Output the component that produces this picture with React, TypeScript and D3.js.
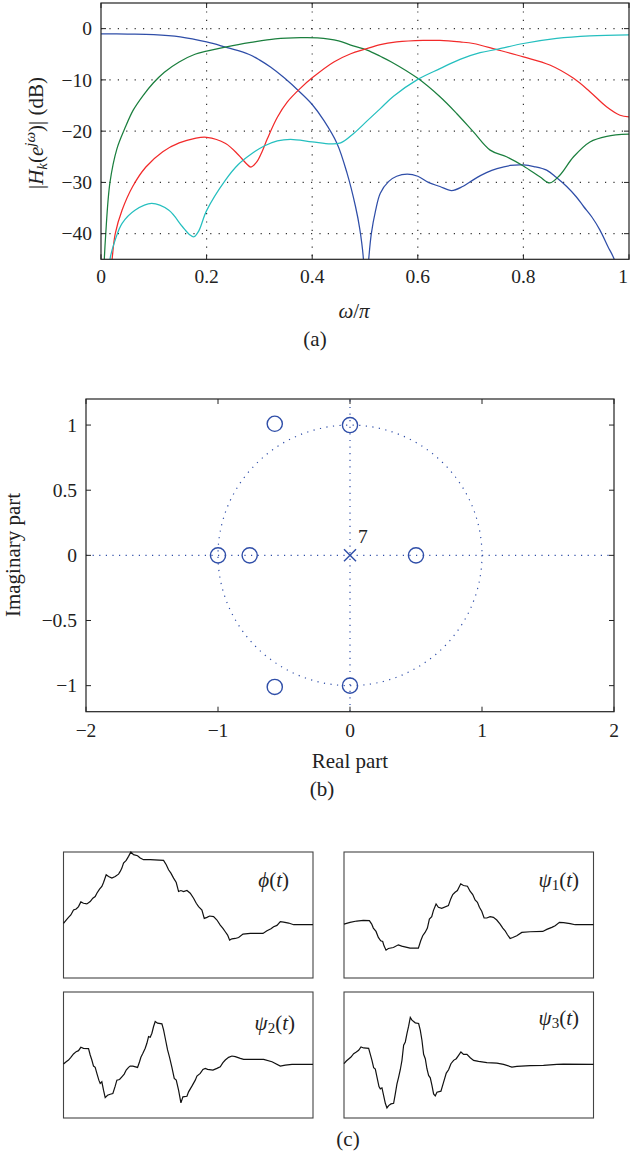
import React from "react";
import * as d3 from "d3";

// ---------- (a) magnitude responses: omega/pi and dB ----------
const omegaH0 = [0, .05, .1, .15, .2, .236, .26, .284, .3, .321, .347, .378, .4, .422, .447, .466, .482, .49, .497, .5, .503, .507, .512, .52, .529, .545, .56, .58, .6, .62, .642, .664, .685, .705, .73, .75, .775, .8, .82, .844, .862, .882, .9, .914, .93, .945, .96, .972, .985, 1];
const dbH0 = [-1.0, -1.05, -1.15, -1.6, -2.6, -3.6, -4.3, -5.2, -6.1, -7.5, -9.6, -12.5, -14.8, -17.9, -22.4, -28.2, -34.7, -39, -45, -60, -50, -45, -40, -35.5, -32.1, -29.8, -28.8, -28.4, -28.8, -30, -30.8, -31.6, -30.8, -29.5, -28.1, -27.3, -26.7, -26.6, -26.9, -27.6, -29, -30.8, -32.8, -34.7, -36.8, -39.3, -42.5, -45, -50, -60];

const omegaH1 = [0.002, .005, .009, .017, .03, .045, .061, .08, .099, .12, .148, .178, .2, .24, .284, .33, .378, .41, .45, .473, .504, .529, .55, .6, .642, .674, .705, .737, .768, .8, .831, .85, .869, .895, .926, .958, 1];
const dbH1 = [-60, -48, -40, -30, -23.5, -19.5, -15.9, -13.0, -10.6, -8.5, -6.5, -5.0, -4.4, -3.5, -2.7, -2.0, -1.75, -1.8, -2.4, -3.2, -4.2, -5.4, -6.5, -9.7, -13.3, -16.6, -20.1, -23.7, -25, -26.8, -28.9, -30.1, -28.6, -25, -22.1, -21, -20.6];

const omegaH2 = [.005, .012, .021, .027, .04, .06, .085, .117, .148, .178, .2, .236, .26, .275, .284, .295, .305, .315, .334, .353, .378, .4, .441, .473, .5, .529, .56, .61, .642, .68, .705, .75, .8, .85, .895, .926, .958, .983, 1];
const dbH2 = [-70, -55, -45, -40, -35.4, -30.8, -27, -24, -22.3, -21.4, -21.2, -22.4, -24.6, -26.3, -27, -26, -24, -21.5, -17.3, -14.3, -11.6, -9.6, -6.5, -4.9, -4.0, -3.1, -2.6, -2.3, -2.3, -2.6, -2.9, -4.1, -5.5, -7.1, -9.7, -12.3, -15.3, -16.9, -17.2];

const omegaH3 = [.008, .017, .027, .04, .065, .096, .128, .154, .168, .176, .185, .2, .236, .26, .284, .309, .334, .359, .4, .435, .454, .479, .504, .529, .554, .6, .642, .68, .718, .752, .8, .863, .926, 1];
const dbH3 = [-60, -45, -41.2, -38, -35.4, -34.1, -35.4, -38.6, -40.2, -40.6, -39.5, -35.5, -29.5, -26.5, -24.5, -22.9, -21.9, -21.6, -22.1, -22.5, -22.3, -20.4, -18.0, -15.6, -13.2, -9.9, -7.8, -6.0, -4.7, -4.0, -2.9, -1.9, -1.4, -1.2];

const seriesColors = ["#2f4ea8", "#1b7f3e", "#f22a2a", "#25bfbf"];
const xTicksA = [0, 0.2, 0.4, 0.6, 0.8, 1];
const xTickLabelsA = ["0", "0.2", "0.4", "0.6", "0.8", "1"];
const yTicksA = [-40, -30, -20, -10, 0];
const yTickLabelsA = ["−40", "−30", "−20", "−10", "0"];

// ---------- (b) pole-zero plot ----------
const zerosRe = [-1, -0.76, -0.57, -0.57, 0, 0, 0.5];
const zerosIm = [0, 0, 1.01, -1.01, 1, -1, 0];
const polesRe = [0];
const polesIm = [0];
const poleMultiplicity = "7";
const xTicksB = [-2, -1, 0, 1, 2];
const xTickLabelsB = ["−2", "−1", "0", "1", "2"];
const yTicksB = [-1, -0.5, 0, 0.5, 1];
const yTickLabelsB = ["−1", "−0.5", "0", "0.5", "1"];

// ---------- (c) scaling function and wavelets: [t (%), amplitude] ----------
const phi: [number, number][] = [[0, 0.03], [1.07, 0.13], [2.0, 0.21], [2.94, 0.28], [4.01, 0.43], [5.08, 0.46], [6.02, 0.53], [6.95, 0.67], [8.02, 0.63], [9.36, 0.61], [10.7, 0.68], [11.76, 0.78], [12.7, 0.83], [13.37, 0.93], [14.44, 1.05], [15.37, 1.13], [16.04, 1.25], [17.11, 1.48], [18.05, 1.43], [19.39, 1.38], [20.72, 1.43], [22.06, 1.5], [22.73, 1.58], [23.4, 1.68], [24.06, 1.83], [25.13, 1.91], [26.07, 2.03], [27.0, 2.16], [28.07, 2.08], [29.68, 2.05], [30.75, 1.98], [32.09, 1.93], [34.76, 1.93], [40.1, 1.91], [41.18, 1.78], [42.11, 1.63], [43.05, 1.53], [44.12, 1.38], [45.19, 1.25], [46.12, 0.98], [47.06, 1.01], [48.13, 0.98], [49.47, 1.01], [50.8, 0.93], [52.14, 0.78], [53.21, 0.63], [54.14, 0.53], [55.48, 0.43], [56.42, 0.18], [57.49, 0.21], [58.56, 0.25], [60.16, 0.23], [61.5, 0.13], [62.83, -0.02], [63.9, -0.12], [64.84, -0.22], [65.78, -0.32], [66.58, -0.47], [67.51, -0.43], [68.85, -0.42], [70.19, -0.39], [71.93, -0.29], [74.87, -0.27], [79.95, -0.27], [81.55, -0.19], [83.16, -0.13], [84.22, -0.07], [85.56, -0.03], [86.9, 0.08], [88.24, 0.07], [90.24, 0.04], [92.25, -0.01], [100, -0.01]];

const psi1: [number, number][] = [[0, 0.01], [2.41, 0.06], [5.08, 0.1], [7.75, 0.12], [10.16, 0.11], [11.1, 0.01], [11.76, -0.11], [12.83, -0.21], [13.77, -0.39], [14.71, -0.49], [15.51, -0.51], [16.04, -0.64], [16.84, -0.77], [17.78, -0.72], [19.79, -0.69], [21.79, -0.61], [23.13, -0.65], [26.47, -0.71], [29.81, -0.71], [30.75, -0.49], [31.55, -0.34], [32.49, -0.24], [33.42, -0.11], [34.22, 0.16], [35.16, 0.23], [35.83, 0.41], [36.9, 0.61], [37.83, 0.51], [39.17, 0.48], [41.84, 0.56], [42.78, 0.76], [43.58, 0.89], [44.52, 0.96], [45.45, 1.01], [46.79, 1.21], [47.86, 1.16], [49.47, 1.14], [50.53, 0.99], [51.6, 0.89], [52.54, 0.73], [53.48, 0.66], [54.28, 0.51], [55.21, 0.39], [56.15, 0.19], [57.22, 0.19], [58.56, 0.23], [59.89, 0.21], [61.23, 0.13], [62.57, 0.01], [63.64, -0.11], [64.57, -0.19], [65.51, -0.31], [66.58, -0.42], [67.65, -0.39], [69.25, -0.34], [71.26, -0.24], [74.6, -0.22], [79.68, -0.21], [81.28, -0.15], [83.29, -0.09], [84.63, -0.04], [86.36, 0.06], [87.97, 0.05], [90.64, 0.02], [92.65, -0.01], [100, -0.01]];

const psi2: [number, number][] = [[0, 0.01], [1.07, 0.08], [2.01, 0.13], [2.94, 0.21], [4.01, 0.31], [5.08, 0.38], [6.02, 0.41], [6.95, 0.51], [8.02, 0.48], [10.03, 0.47], [10.7, 0.28], [11.36, 0.13], [12.03, -0.05], [12.7, -0.09], [13.37, -0.27], [14.17, -0.47], [14.71, -0.57], [15.37, -0.52], [16.04, -0.77], [16.71, -0.99], [17.65, -0.92], [18.72, -0.89], [19.79, -0.87], [20.72, -0.65], [21.39, -0.47], [22.46, -0.45], [23.4, -0.37], [24.33, -0.29], [25.13, -0.17], [26.07, -0.09], [26.74, -0.05], [27.81, -0.05], [29.68, -0.09], [30.48, 0.08], [31.02, 0.21], [31.82, 0.33], [32.75, 0.48], [33.42, 0.63], [34.09, 0.83], [34.76, 0.81], [35.43, 0.93], [36.1, 1.13], [36.76, 1.28], [37.7, 1.23], [39.44, 1.21], [40.11, 1.03], [40.78, 0.78], [41.71, 0.43], [42.51, 0.21], [43.45, -0.09], [44.39, -0.42], [45.19, -0.47], [46.12, -0.77], [47.06, -1.15], [47.86, -0.97], [49.47, -0.95], [50.13, -0.82], [51.47, -0.65], [52.81, -0.47], [53.48, -0.35], [54.81, -0.27], [55.88, -0.15], [56.82, -0.12], [57.75, -0.15], [59.89, -0.17], [61.5, -0.12], [62.83, -0.07], [63.9, 0.05], [64.84, 0.13], [66.18, 0.21], [67.51, 0.25], [68.85, 0.23], [70.86, 0.18], [72.19, 0.15], [74.87, 0.15], [80.21, 0.15], [83.56, 0.08], [86.9, -0.05], [88.9, -0.02], [91.58, 0], [100, 0]];

const psi3: [number, number][] = [[0, 0.02], [0.93, 0.1], [1.87, 0.16], [2.8, 0.22], [3.87, 0.32], [4.94, 0.37], [5.87, 0.42], [6.81, 0.52], [7.88, 0.49], [9.88, 0.48], [10.55, 0.3], [11.21, 0.12], [11.88, -0.1], [12.55, -0.14], [13.22, -0.38], [14.02, -0.66], [14.55, -0.73], [15.22, -0.7], [15.89, -0.93], [16.56, -1.16], [17.22, -1.3], [17.89, -1.23], [18.83, -1.18], [19.89, -1.16], [20.56, -0.88], [21.23, -0.58], [21.9, -0.38], [22.56, -0.16], [23.23, 0.12], [23.9, 0.57], [24.57, 0.67], [25.23, 0.92], [25.9, 1.14], [26.57, 1.4], [27.24, 1.32], [28.57, 1.24], [29.91, 1.22], [30.57, 1.02], [31.24, 0.72], [31.91, 0.3], [32.58, 0.17], [33.24, -0.13], [33.91, -0.33], [34.58, -0.4], [35.25, -0.63], [35.91, -0.88], [36.58, -0.94], [37.25, -0.83], [38.85, -0.8], [39.92, -0.53], [40.99, -0.26], [41.92, -0.16], [42.86, 0.02], [43.93, 0.12], [44.99, 0.17], [45.93, 0.27], [46.86, 0.37], [47.93, 0.3], [49.27, 0.3], [50.6, 0.2], [51.94, 0.12], [53.94, 0.09], [57.28, 0.05], [61.28, 0.04], [63.95, 0], [67.29, -0.08], [69.29, -0.06], [74.63, -0.04], [79.97, -0.03], [85.31, 0], [87.98, 0.01], [100, 0]];

const waveNames = ["ϕ", "ψ", "ψ", "ψ"];
const waveSubs = ["", "1", "2", "3"];

const FONT = "'Liberation Serif', 'Times New Roman', serif";

function AxisBoxTicks({ x0, x1, y0, y1, xs, ys, len = 5, color = "#222" }: any) {
  return (
    <g stroke={color} strokeWidth={1}>
      {xs.map((x: number, i: number) => (
        <g key={"x" + i}>
          <line x1={x} x2={x} y1={y1} y2={y1 - len} />
          <line x1={x} x2={x} y1={y0} y2={y0 + len} />
        </g>
      ))}
      {ys.map((y: number, i: number) => (
        <g key={"y" + i}>
          <line x1={x0} x2={x0 + len} y1={y} y2={y} />
          <line x1={x1} x2={x1 - len} y1={y} y2={y} />
        </g>
      ))}
      <rect x={x0} y={y0} width={x1 - x0} height={y1 - y0} fill="none" strokeWidth={1.2} />
    </g>
  );
}

export default function App() {
  // ----- (a)
  const xA = d3.scaleLinear().domain([0, 1]).range([101, 629]);
  const yA = d3.scaleLinear().domain([-45, 5]).range([259.3, 3]);
  const lineA = d3
    .line<[number, number]>()
    .x((d) => xA(d[0]))
    .y((d) => yA(d[1]))
    .curve(d3.curveCatmullRom.alpha(0.5));
  const seriesA = [
    d3.zip(omegaH0, dbH0),
    d3.zip(omegaH1, dbH1),
    d3.zip(omegaH2, dbH2),
    d3.zip(omegaH3, dbH3),
  ] as [number, number][][];
  const [aL, aR] = xA.range();
  const aB = yA(-45), aT = yA(5);

  // ----- (b)
  const xB = d3.scaleLinear().domain([-2, 2]).range([86, 614]);
  const yB = d3.scaleLinear().domain([-1.2, 1.2]).range([711.7, 399]);
  const blue = "#2f4ea8";

  // ----- (c)
  const waves = [phi, psi1, psi2, psi3];
  const colX = [63.5, 344];
  const rowY = [852, 992];
  const pw = 249.5, ph = 126;
  const labelEnd = [[289, 887], [579, 887], [295, 1030], [579, 1025]];

  return (
    <svg
      width={630}
      height={1166}
      style={{ position: "absolute", left: 0, top: 0, background: "#fff" }}
      fontFamily={FONT}
    >
      <rect width={630} height={1166} fill="#fff" />
      {/* ================= (a) ================= */}
      <defs>
        <clipPath id="clipA">
          <rect x={aL} y={aT} width={aR - aL} height={aB - aT} />
        </clipPath>
      </defs>
      <g stroke="#333" strokeWidth={1.2} strokeDasharray="1.2,7.2">
        {xTicksA.slice(1, -1).map((t, i) => (
          <line key={i} x1={xA(t)} x2={xA(t)} y1={aT} y2={aB} />
        ))}
        {yTicksA.map((t, i) => (
          <line key={i} x1={aL} x2={aR} y1={yA(t)} y2={yA(t)} />
        ))}
      </g>
      <g clipPath="url(#clipA)" fill="none" strokeWidth={1.25}>
        {seriesA.map((s, i) => (
          <path key={i} d={lineA(s) || ""} stroke={seriesColors[i]} />
        ))}
      </g>
      <AxisBoxTicks x0={aL} x1={aR} y0={aT} y1={aB} xs={xTicksA.map(xA)} ys={yTicksA.map(yA)} />
      <g fontSize={19.5} fill="#222">
        {xTicksA.map((t, i) => (
          <text
            key={i}
            x={i === xTicksA.length - 1 ? xA(t) - 1 : xA(t)}
            y={283}
            textAnchor={i === xTicksA.length - 1 ? "end" : "middle"}
          >
            {xTickLabelsA[i]}
          </text>
        ))}
        {yTicksA.map((t, i) => (
          <text key={i} x={92} y={yA(t)} dy="0.35em" textAnchor="end">
            {yTickLabelsA[i]}
          </text>
        ))}
      </g>
      <g fontSize={21} fill="#222">
        <text x={354} y={318} textAnchor="middle">
          <tspan fontStyle="italic">ω</tspan>
          <tspan>/</tspan>
          <tspan fontStyle="italic">π</tspan>
        </text>
        <text x={315} y={346} textAnchor="middle">(a)</text>
        <text transform="translate(42.5,133) rotate(-90)" textAnchor="middle">
          <tspan>|</tspan>
          <tspan fontStyle="italic">H</tspan>
          <tspan fontStyle="italic" fontSize={15} dy={4}>k</tspan>
          <tspan dy={-4}>(</tspan>
          <tspan fontStyle="italic">e</tspan>
          <tspan fontStyle="italic" fontSize={15} dy={-8}>jω</tspan>
          <tspan dy={8}>)|</tspan>
          <tspan> (dB)</tspan>
        </text>
      </g>

      {/* ================= (b) ================= */}
      <g stroke={blue} strokeWidth={1.2} strokeDasharray="1.2,5.4" fill="none">
        <line x1={xB(-2)} x2={xB(2)} y1={yB(0)} y2={yB(0)} />
        <line x1={xB(0)} x2={xB(0)} y1={yB(-1.2)} y2={yB(1.2)} />
        <ellipse cx={xB(0)} cy={yB(0)} rx={xB(1) - xB(0)} ry={yB(0) - yB(1)} />
      </g>
      <g stroke={blue} strokeWidth={1.4} fill="none">
        {zerosRe.map((r, i) => (
          <circle key={i} cx={xB(r)} cy={yB(zerosIm[i])} r={7.6} />
        ))}
        {polesRe.map((r, i) => (
          <g key={i}>
            <line x1={xB(r) - 6} x2={xB(r) + 6} y1={yB(polesIm[i]) - 6} y2={yB(polesIm[i]) + 6} />
            <line x1={xB(r) - 6} x2={xB(r) + 6} y1={yB(polesIm[i]) + 6} y2={yB(polesIm[i]) - 6} />
          </g>
        ))}
      </g>
      <text x={xB(0) + 8} y={yB(0) - 12} fontSize={19.5} fill="#222">{poleMultiplicity}</text>
      <AxisBoxTicks
        x0={xB(-2)} x1={xB(2)} y0={yB(1.2)} y1={yB(-1.2)}
        xs={xTicksB.map(xB)} ys={yTicksB.map(yB)}
      />
      <g fontSize={19.5} fill="#222">
        {xTicksB.map((t, i) => (
          <text key={i} x={xB(t)} y={737} textAnchor="middle">
            {xTickLabelsB[i]}
          </text>
        ))}
        {yTicksB.map((t, i) => (
          <text key={i} x={77} y={yB(t)} dy="0.35em" textAnchor="end">
            {yTickLabelsB[i]}
          </text>
        ))}
      </g>
      <g fontSize={21} fill="#222">
        <text x={350} y={768} textAnchor="middle">Real part</text>
        <text x={322} y={796} textAnchor="middle">(b)</text>
        <text transform="translate(20,555) rotate(-90)" textAnchor="middle">Imaginary part</text>
      </g>

      {/* ================= (c) ================= */}
      {waves.map((w, i) => {
        const px = colX[i % 2];
        const py = rowY[Math.floor(i / 2)];
        const xs = d3.scaleLinear().domain([0, 100]).range([px, px + pw]);
        const ys = d3.scaleLinear().domain([-1.6, 2.16]).range([py + ph, py]);
        const ln = d3.line<[number, number]>().x((d) => xs(d[0])).y((d) => ys(d[1]));
        return (
          <g key={i}>
            <rect x={px} y={py} width={pw} height={ph} fill="none" stroke="#444" strokeWidth={1.1} />
            <path d={ln(w) || ""} fill="none" stroke="#111" strokeWidth={1.2} />
            <text x={labelEnd[i][0]} y={labelEnd[i][1]} textAnchor="end" fontSize={21} fill="#222">
              <tspan fontStyle="italic">{waveNames[i]}</tspan>
              {waveSubs[i] ? <tspan fontSize={15} dy={3}>{waveSubs[i]}</tspan> : null}
              <tspan dy={waveSubs[i] ? -3 : 0}>(</tspan>
              <tspan fontStyle="italic">t</tspan>
              <tspan>)</tspan>
            </text>
          </g>
        );
      })}
      <text x={348} y={1146} textAnchor="middle" fontSize={21} fill="#222">(c)</text>
    </svg>
  );
}
